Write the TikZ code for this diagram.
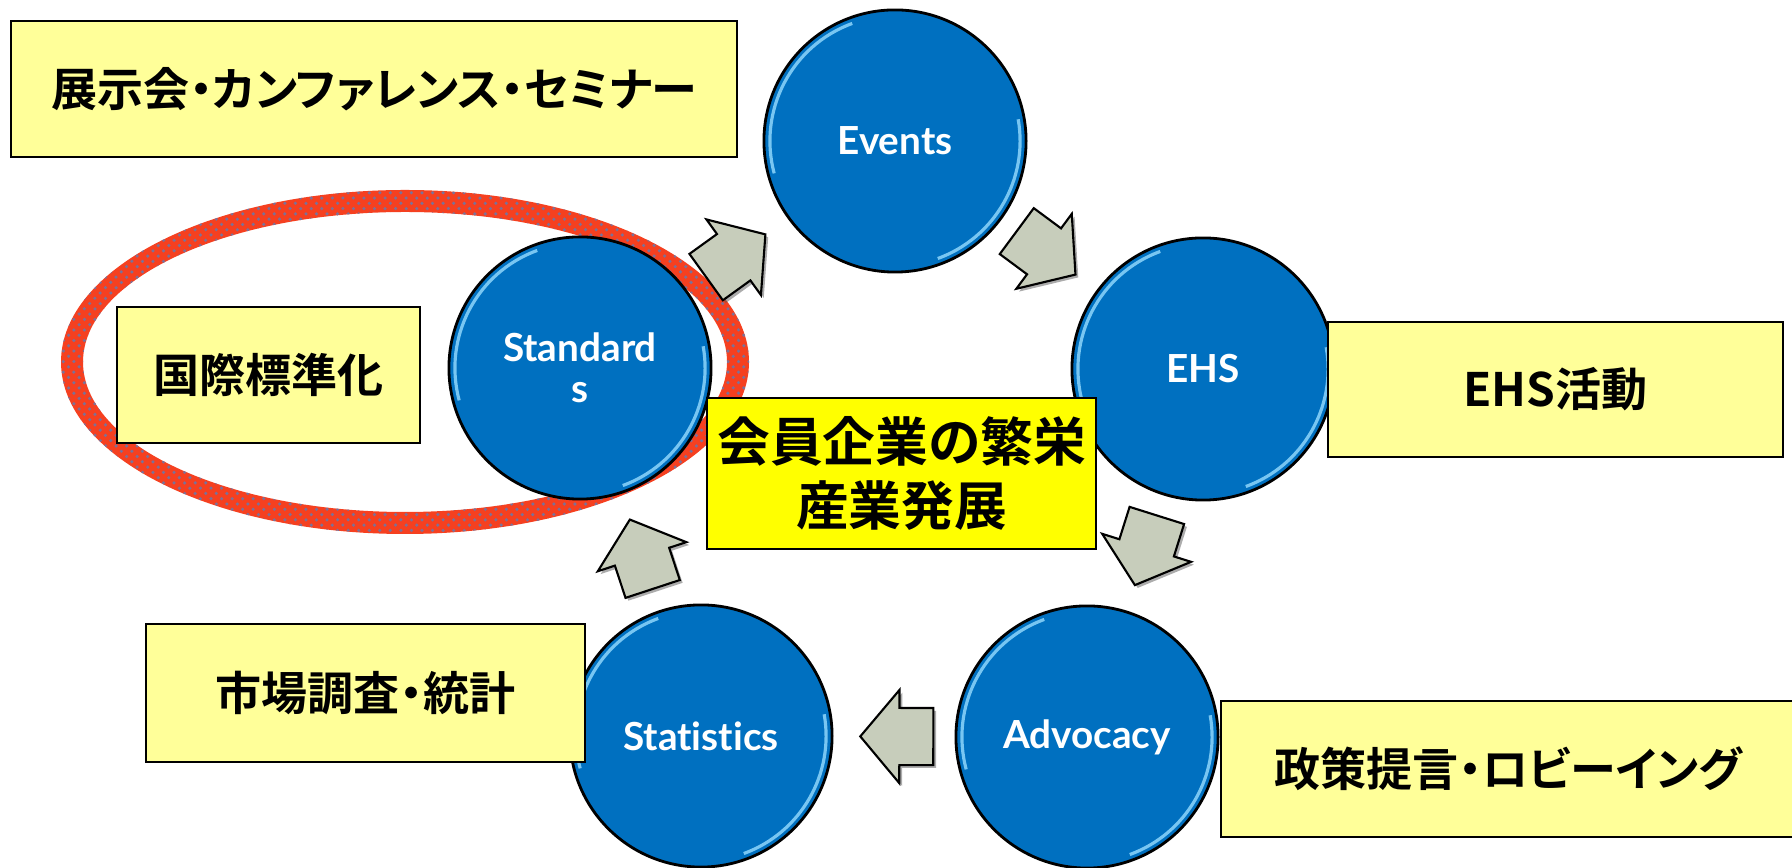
\documentclass[tikz,border=0pt]{standalone}
\usepackage{fontspec}
\usetikzlibrary{shapes.arrows,shadows,patterns}
\newfontfamily\jpfont[RawFeature=+palt,BoldFont={Noto Sans CJK JP Bold}]{Noto Sans CJK JP}
\newfontfamily\latfont[Ligatures={NoCommon,NoRare}]{Lato}
\definecolor{ballblue}{RGB}{0,112,192}
\definecolor{ballglint}{RGB}{150,220,255}
\definecolor{notepale}{RGB}{255,255,153}
\definecolor{goalyellow}{RGB}{255,255,0}
\definecolor{flowgrey}{RGB}{199,205,187}
\definecolor{ringred}{RGB}{245,64,32}
\definecolor{ringdot}{RGB}{125,112,150}

\begin{document}
\begin{tikzpicture}[x=0.01cm,y=-0.01cm,
  ball/.style={circle,fill=ballblue,draw=black,line width=0.8pt,minimum size=2.62cm,inner sep=0pt,
    text=white,align=center,font=\latfont\bfseries\fontsize{11}{11.5}\selectfont,
    path picture={
      \draw[ballglint,line width=0.9pt,opacity=0.8] (path picture bounding box.center) ++(110:1.25cm) arc[start angle=110,end angle=195,radius=1.25cm];
      \draw[ballglint,line width=0.9pt,opacity=0.8] (path picture bounding box.center) ++(-70:1.25cm) arc[start angle=-70,end angle=10,radius=1.25cm];}},
  note/.style={rectangle,fill=notepale,draw=black,line width=0.5pt,inner sep=0pt,
    font=\jpfont\bfseries\fontsize{13.1}{16}\selectfont},
  goal/.style={rectangle,fill=goalyellow,draw=black,line width=0.5pt,inner sep=0pt,align=center,
    font=\jpfont\bfseries\fontsize{15}{18.2}\selectfont},
  flow/.style={single arrow,fill=flowgrey,draw=black,line width=0.6pt,inner xsep=0pt,inner ysep=0.275cm,
    minimum height=0.73cm,single arrow head extend=0.18cm,single arrow tip angle=100,
    drop shadow={shadow xshift=0.8pt,shadow yshift=-0.8pt,fill=black!65},
    sloped,allow upside down,anchor=tip,pos=0.79}]
\useasboundingbox (0,0) rectangle (1792,868);

% ring round the standards part
\fill[ringred,even odd rule] (405,362) ellipse [x radius=344,y radius=172] (405,362) ellipse [x radius=322,y radius=150];
\fill[pattern=crosshatch dots,pattern color=ringdot,even odd rule] (405,362) ellipse [x radius=344,y radius=172] (405,362) ellipse [x radius=322,y radius=150];

\node[ball] (EV) at (895,141) {Events};
\node[ball] (EH) at (1203,369) {EHS};
\node[ball] (AD) at (1087,737) {Advocacy};
\node[ball] (ST) at (701,736) {Statistics};
\node[ball] (SD) at (580,368) {Standard\\s};

\path (SD) -- node[flow]{} (EV);
\path (EV) -- node[flow]{} (EH);
\path (EH) -- node[flow]{} (AD);
\path (AD) -- node[flow]{} (ST);
\path (ST) -- node[flow]{} (SD);

\node[note,minimum width=7.26cm,minimum height=1.36cm] (DEV) at (374,89) {展示会・カンファレンス・セミナー};
\node[note,minimum width=3.03cm,minimum height=1.36cm] (DSD) at (268.5,375) {国際標準化};
\node[note,minimum width=4.55cm,minimum height=1.35cm] (DEH) at (1555.5,389.5) {EHS活動};
\node[note,minimum width=4.39cm,minimum height=1.38cm] (DST) at (365.5,693) {市場調査・統計};
\node[note,minimum width=5.75cm,minimum height=1.36cm] (DAD) at (1508.5,769) {政策提言・ロビーイング};

\node[goal,minimum width=3.89cm,minimum height=1.51cm] (G) at (901.5,473.5) {会員企業の繁栄\\産業発展};
\end{tikzpicture}
\end{document}
